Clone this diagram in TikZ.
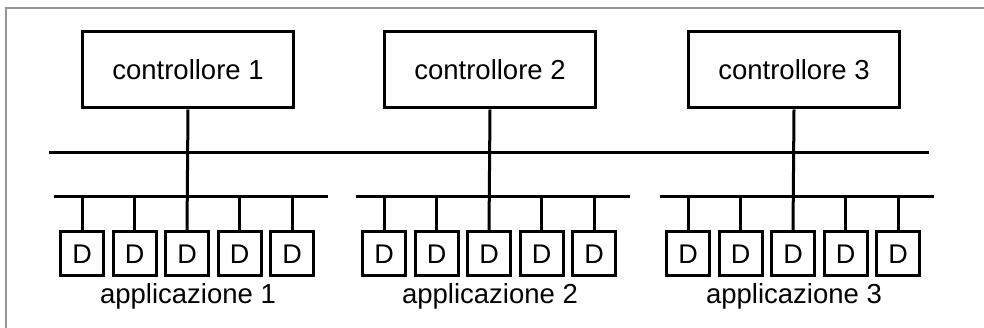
\documentclass[tikz,border=0pt]{standalone}
\usepackage{fontspec}
\setmainfont{Liberation Sans}
\definecolor{framegray}{RGB}{150,150,150}
\begin{document}
\begin{tikzpicture}[x=1pt,y=-1pt,
  bus/.style={line width=3pt},
  ctrlbox/.style={draw,line width=3pt,minimum width=211pt,minimum height=76pt,inner sep=0pt,
    font=\fontsize{27.5}{33}\selectfont},
  devbox/.style={draw,line width=3pt,minimum width=43pt,minimum height=44pt,inner sep=0pt,
    font=\fontsize{27}{32}\selectfont},
  grouplabel/.style={inner sep=0pt,font=\fontsize{27.5}{33}\selectfont}]
\useasboundingbox (0,0) rectangle (984,328);
% outer frame (cropped at right and bottom)
\draw[framegray,line width=2pt] (6,328) -- (6,8) -- (984,8);
% main bus shared by the three controllers
\coordinate (ml) at (49,153);
\coordinate (mr) at (929,153);
\draw[bus] (ml) -- (mr);
\foreach \g/\cx in {1/187,2/489,3/793}{
  \node[ctrlbox] (c\g) at (\cx+1,70) {controllore \g};
  \coordinate (sl\g) at (\cx-133,197);
  \coordinate (sr\g) at (\cx+141,197);
  \draw[bus] (sl\g) -- (sr\g);
  \foreach \i/\dx in {1/-105,2/-52.5,3/0,4/52.5,5/105}{
    \node[devbox] (d\g\i) at (\cx+\dx,254) {D};
  }
  \foreach \i in {1,2,4,5}{
    \draw[bus] (d\g\i.north) -- (d\g\i.north |- sl\g);
  }
  \draw[bus] (c\g.south) -- (d\g3.north);
  \node[grouplabel] (a\g) at (\cx+1,296) {applicazione \g};
}
\end{tikzpicture}
\end{document}
